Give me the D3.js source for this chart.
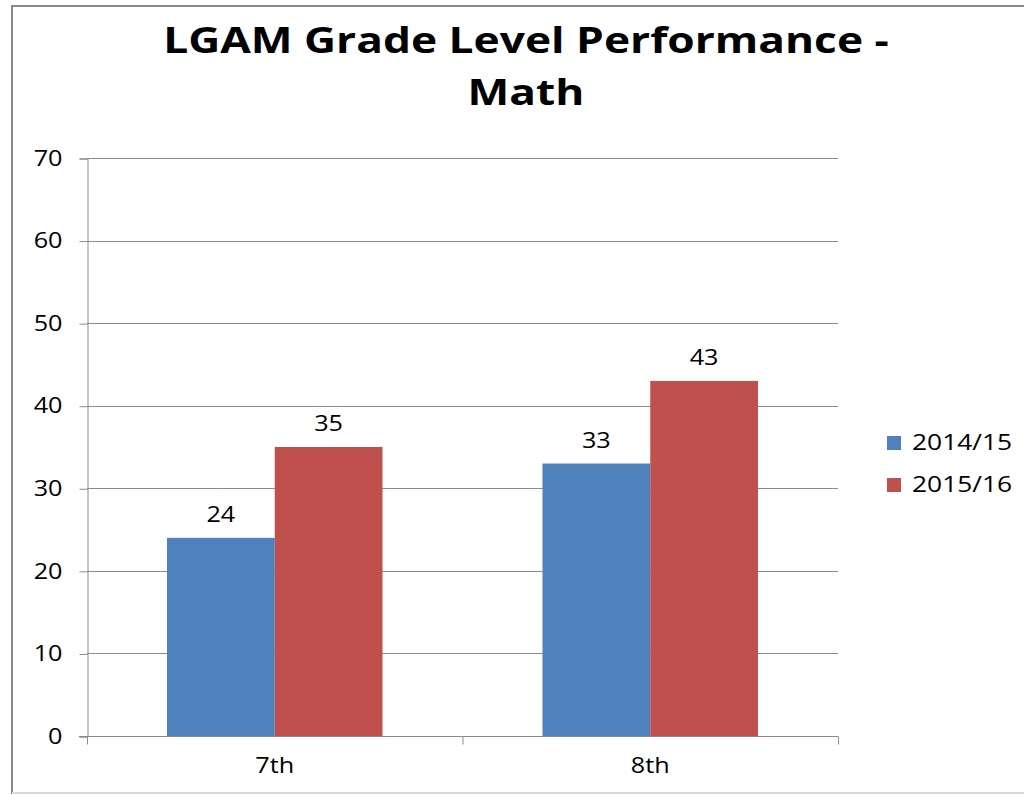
<!DOCTYPE html>
<html>
<head>
<meta charset="utf-8">
<script src="https://cdn.jsdelivr.net/npm/d3@7"></script>
<style>
  body { margin: 0; background: #fff; }
  svg { display: block; }
</style>
</head>
<body>
<div id="chart"></div>
<script>
// chart data
var categories = ["7th", "8th"];
var seriesNames = ["2014/15", "2015/16"];
var values2014 = [24, 33];
var values2015 = [35, 43];
var yTicks = [0, 10, 20, 30, 40, 50, 60, 70];
var colours = ["#4F81BD", "#C0504D"];

var width = 1024, height = 795;
var plot = {left: 87, right: 838, top: 158, bottom: 736};
var fontFamily = "'Open Sans', sans-serif";

// the reference text is a little wider than Open Sans, so stretch it horizontally
// around its anchor point
var stretch = function(sel, k) {
    sel.each(function() {
        var e = d3.select(this);
        var x = +e.attr("x") || 0;
        e.attr("transform", "translate(" + x + ",0) scale(" + k + ",1) translate(" + (-x) + ",0)");
    });
};

var svg = d3.select("#chart").append("svg")
    .attr("width", width)
    .attr("height", height);

// outer frame
svg.append("rect")
    .attr("x", 12).attr("y", 6)
    .attr("width", 1030).attr("height", 787)
    .attr("fill", "#fff")
    .attr("stroke", "#8a8a8a")
    .attr("stroke-width", 2);
svg.append("line")
    .attr("x1", 12).attr("x2", 1024).attr("y1", 793).attr("y2", 793)
    .attr("stroke", "#d9d9d9").attr("stroke-width", 2);

// title
var titleLines = ["LGAM Grade Level Performance -", "Math"];
svg.append("g").selectAll("text")
    .data(titleLines)
    .enter().append("text")
    .attr("x", 526)
    .attr("y", function(d, i) { return 53 + i * 52; })
    .attr("text-anchor", "middle")
    .style("font-family", fontFamily)
    .style("font-weight", "bold")
    .style("font-size", "36px")
    .attr("fill", "#000")
    .text(function(d) { return d; })
    .call(stretch, 1.23);

var y = d3.scaleLinear().domain([0, 70]).range([plot.bottom, plot.top]);
var x0 = d3.scaleBand().domain(categories).range([plot.left, plot.right]).paddingInner(0).paddingOuter(0);
var x1 = d3.scaleBand().domain(seriesNames).range([80, x0.bandwidth() - 80]);

// gridlines
svg.append("g").selectAll("line")
    .data(yTicks.slice(1))
    .enter().append("line")
    .attr("x1", plot.left).attr("x2", plot.right)
    .attr("y1", function(d) { return Math.round(y(d)) + 0.5; })
    .attr("y2", function(d) { return Math.round(y(d)) + 0.5; })
    .attr("stroke", "#8c8c8c").attr("stroke-width", 1);

// y axis
var yAxis = d3.axisLeft(y).tickValues(yTicks).tickSize(8).tickPadding(17);
var yg = svg.append("g")
    .attr("transform", "translate(" + (plot.left + 0.5) + ",0.5)")
    .call(yAxis);
yg.select(".domain").attr("stroke", "#8c8c8c");
yg.selectAll(".tick line").attr("stroke", "#8c8c8c");
yg.selectAll(".tick text")
    .style("font-family", fontFamily)
    .style("font-size", "21px")
    .attr("fill", "#000")
    .call(stretch, 1.2);

// series
var series = [values2014, values2015];
series.forEach(function(vals, si) {
    svg.append("g").selectAll("rect")
        .data(vals)
        .enter().append("rect")
        .attr("x", function(d, i) { return x0(categories[i]) + x1(seriesNames[si]); })
        .attr("y", function(d) { return y(d); })
        .attr("width", x1.bandwidth())
        .attr("height", function(d) { return y(0) - y(d); })
        .attr("fill", colours[si]);

    svg.append("g").selectAll("text")
        .data(vals)
        .enter().append("text")
        .attr("x", function(d, i) { return x0(categories[i]) + x1(seriesNames[si]) + x1.bandwidth() / 2; })
        .attr("y", function(d) { return y(d) - 16; })
        .attr("text-anchor", "middle")
        .style("font-family", fontFamily)
        .style("font-size", "21px")
        .attr("fill", "#000")
        .text(function(d) { return d; })
        .call(stretch, 1.2);
});

// x axis
var xAxis = d3.axisBottom(x0).tickSize(0).tickPadding(22);
var xg = svg.append("g")
    .attr("transform", "translate(0," + (plot.bottom + 0.5) + ")")
    .call(xAxis);
xg.select(".domain").attr("stroke", "#8c8c8c").attr("d", "M" + (plot.left - 8) + ",0H" + plot.right);
xg.selectAll(".tick text")
    .style("font-family", fontFamily)
    .style("font-size", "21px")
    .attr("fill", "#000")
    .call(stretch, 1.2);
xg.append("g").selectAll("line")
    .data([plot.left, x0("8th"), plot.right])
    .enter().append("line")
    .attr("x1", function(d) { return d + 0.5; }).attr("x2", function(d) { return d + 0.5; })
    .attr("y1", 0).attr("y2", 8)
    .attr("stroke", "#8c8c8c");

// legend
var legend = svg.append("g").selectAll("g")
    .data(seriesNames)
    .enter().append("g")
    .attr("transform", function(d, i) { return "translate(887," + (436 + i * 42) + ")"; });
legend.append("rect")
    .attr("width", 14).attr("height", 14)
    .attr("fill", function(d, i) { return colours[i]; });
legend.append("text")
    .attr("x", 25).attr("y", 14)
    .style("font-family", fontFamily)
    .style("font-size", "22px")
    .attr("fill", "#000")
    .text(function(d) { return d; })
    .call(stretch, 1.2);
</script>
</body>
</html>
